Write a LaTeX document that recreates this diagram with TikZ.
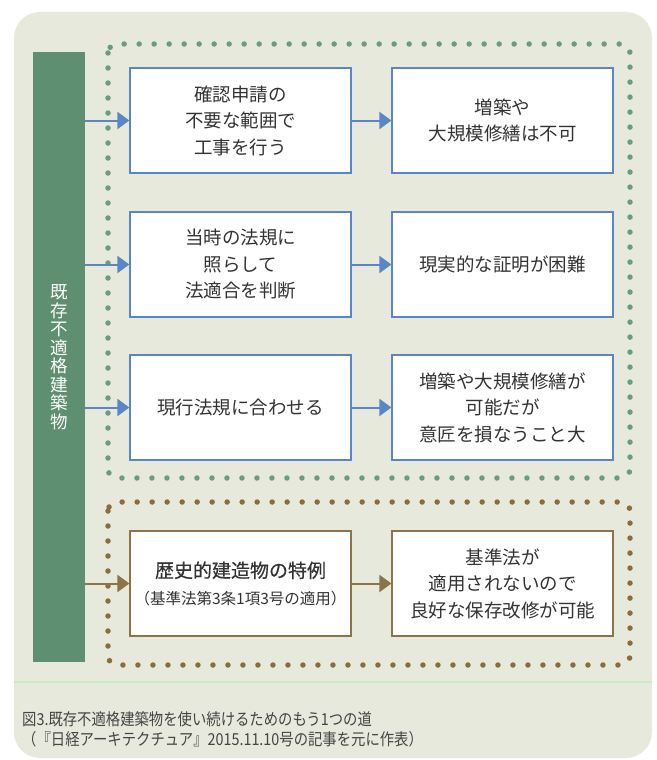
\documentclass[tikz,border=0pt]{standalone}
\usepackage{fontspec}
\setmainfont{Noto Sans CJK JP}
\newfontfamily\capfont[FakeStretch=0.87]{Noto Sans CJK JP}
\newfontfamily\medfont[FakeBold=0.4]{Noto Sans CJK JP}
\usetikzlibrary{arrows.meta}
\definecolor{bgc}{HTML}{E7E9DC}
\definecolor{barg}{HTML}{5E8F71}
\definecolor{dotg}{HTML}{6A9C80}
\definecolor{dotb}{HTML}{8A6D3B}
\definecolor{blueln}{HTML}{5A86C5}
\definecolor{brownln}{HTML}{8C7448}
\definecolor{txt}{HTML}{333333}
\definecolor{sep}{HTML}{C8EBC2}
\definecolor{captxt}{HTML}{454545}
\tikzset{
  box/.style={draw, fill=white, line width=1.2pt, minimum width=221pt, minimum height=105pt,
    inner sep=0pt, align=center, text=txt, font=\fontsize{18.5}{26.5}\selectfont},
  bluebox/.style={box, draw=blueln},
  brownbox/.style={box, draw=brownln},
  arr/.style={line width=2pt, -{Triangle[length=12pt,width=17pt]}},
  bluearr/.style={arr, draw=blueln, fill=blueln},
  brownarr/.style={arr, draw=brownln, fill=brownln},
  dotframe/.style={line width=5.5pt, line cap=round, dash pattern=on 0pt off 15pt, rounded corners=9pt},
}
\begin{document}
\begin{tikzpicture}[x=1pt,y=-1pt]
\useasboundingbox (0,0) rectangle (656,760);
\fill[white] (0,0) rectangle (656,760);
\fill[bgc, rounded corners=26pt] (14,12) rectangle (652,758);
\draw[sep, line width=1.5pt] (14,682) -- (652,682);

% dotted frames
\draw[dotframe, draw=dotg] (108,44) rectangle (630,478);
\draw[dotframe, draw=dotb] (108,502) rectangle (630,665);

% left bar
\node[fill=barg, minimum width=52pt, minimum height=610pt, inner sep=0pt, text=white,
  align=center, font=\fontsize{17.5}{18.5}\selectfont] (bar) at (59,357)
  {既\\存\\不\\適\\格\\建\\築\\物};

% boxes
\node[bluebox] (a1) at (240.5,120.5) {確認申請の\\不要な範囲で\\工事を行う};
\node[bluebox] (b1) at (502.5,120.5) {増築や\\大規模修繕は不可};
\node[bluebox] (a2) at (240.5,264.5) {当時の法規に\\照らして\\法適合を判断};
\node[bluebox] (b2) at (502.5,264.5) {現実的な証明が困難};
\node[bluebox] (a3) at (240.5,407.5) {現行法規に合わせる};
\node[bluebox] (b3) at (502.5,407.5) {増築や大規模修繕が\\可能だが\\意匠を損なうこと大};
\node[brownbox] (a4) at (240.5,583.5) {{\medfont\fontsize{19}{28}\selectfont 歴史的建造物の特例}\\{\fontsize{15.5}{20}\selectfont （基準法第3条1項3号の適用）}};
\node[brownbox] (b4) at (502.5,583.5) {基準法が\\適用されないので\\良好な保存改修が可能};

% connectors
\draw[bluearr] (bar.east |- a1.west) -- (a1.west);
\draw[bluearr] (bar.east |- a2.west) -- (a2.west);
\draw[bluearr] (bar.east |- a3.west) -- (a3.west);
\draw[brownarr] (bar.east |- a4.west) -- (a4.west);
\draw[bluearr] (a1.east) -- (b1.west);
\draw[bluearr] (a2.east) -- (b2.west);
\draw[bluearr] (a3.east) -- (b3.west);
\draw[brownarr] (a4.east) -- (b4.west);

% caption
\node[anchor=west, align=left, text=captxt, inner sep=0pt, font=\capfont\fontsize{16.5}{20}\selectfont] (cap) at (22,729)
  {図3.既存不適格建築物を使い続けるためのもう1つの道\\（『日経アーキテクチュア』2015.11.10号の記事を元に作表）};
\end{tikzpicture}
\end{document}
